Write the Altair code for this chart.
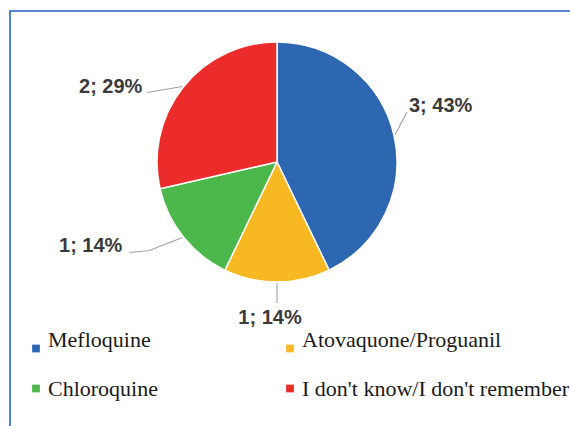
import math
import altair as alt
import pandas as pd

# ---- data ----
CATEGORIES = ["Mefloquine", "Atovaquone/Proguanil", "Chloroquine", "I don't know/I don't remember"]
COUNTS = [3, 1, 1, 2]
COLORS = ["#2E67B1", "#F8B822", "#4CB74A", "#EC2B2B"]

# ---- layout (styles / positions) ----
W, H = 570, 426
CX, CY, R = 277, 162, 120
# leader path points relative to the slice's edge point
LEADER_OFFSETS = [[(12, -23)], [(0, 20)], [(-33, 13), (-53, 15)], [(-35, 6)]]
# label position relative to the leader's end, and alignment
LABEL_SHIFT = [(2, 0), (-7, 21), (-7, 0), (-5, 0)]
LABEL_ALIGN = ["left", "center", "right", "right"]
LEG_SQ_X = [36, 290]
LEG_TX_X = [48, 302]
LEG_SQ_Y = [348.5, 388.5]
LEG_TX_Y = [347, 396]

total = sum(COUNTS)
pie_df = pd.DataFrame({"cat": CATEGORIES, "n": COUNTS, "ord": list(range(len(CATEGORIES)))})

lead_rows, lab_rows = [], []
cum = 0
for i, (c, n) in enumerate(zip(CATEGORIES, COUNTS)):
    mid = (cum + n / 2) / total * 2 * math.pi
    cum += n
    ex, ey = CX + (R + 1) * math.sin(mid), CY - (R + 1) * math.cos(mid)
    pts = [(ex, ey)] + [(ex + dx, ey + dy) for dx, dy in LEADER_OFFSETS[i]]
    for k, (px, py) in enumerate(pts):
        lead_rows.append({"cat": c, "seq": k, "x": px, "y": py})
    lx, ly = pts[-1][0] + LABEL_SHIFT[i][0], pts[-1][1] + LABEL_SHIFT[i][1]
    pct = round(n / total * 100)
    lab_rows.append({"cat": c, "x": lx, "y": ly, "label": f"{n}; {pct}%", "al": LABEL_ALIGN[i]})
lead_df = pd.DataFrame(lead_rows)
lab_df = pd.DataFrame(lab_rows)

leg_df = pd.DataFrame({
    "cat": CATEGORIES,
    "sx": [LEG_SQ_X[i % 2] for i in range(len(CATEGORIES))],
    "sy": [LEG_SQ_Y[i // 2] for i in range(len(CATEGORIES))],
    "tx": [LEG_TX_X[i % 2] for i in range(len(CATEGORIES))],
    "ty": [LEG_TX_Y[i // 2] for i in range(len(CATEGORIES))],
})

xs = alt.Scale(domain=[0, W], nice=False, zero=False)
ys = alt.Scale(domain=[0, H], nice=False, zero=False, reverse=True)
color = alt.Color("cat:N", scale=alt.Scale(domain=CATEGORIES, range=COLORS), legend=None)

frame = alt.Chart(pd.DataFrame({"a": [0]})).mark_rect(
    fill=None, stroke="#2262C2", strokeWidth=1.6
).encode(x=alt.value(10), x2=alt.value(W + 50), y=alt.value(11), y2=alt.value(H + 50))

pie = alt.Chart(pie_df).mark_arc(outerRadius=R, stroke="white", strokeWidth=1.5).encode(
    theta=alt.Theta("n:Q", stack=True),
    order=alt.Order("ord:Q"),
    color=color,
    x=alt.value(CX),
    y=alt.value(CY),
)

leaders = alt.Chart(lead_df).mark_line(color="#A0A0A0", strokeWidth=1.1).encode(
    x=alt.X("x:Q", scale=xs, axis=None),
    y=alt.Y("y:Q", scale=ys, axis=None),
    detail="cat:N",
    order="seq:Q",
)

label_layers = []
for al in ["left", "center", "right"]:
    label_layers.append(
        alt.Chart(lab_df).transform_filter(alt.datum.al == al).mark_text(
            align=al, baseline="alphabetic", font="Liberation Sans", fontWeight="bold",
            fontSize=20, color="#3A3A3A"
        ).encode(
            x=alt.X("x:Q", scale=xs, axis=None),
            y=alt.Y("y:Q", scale=ys, axis=None),
            text="label:N",
        )
    )

leg_sq = alt.Chart(leg_df).mark_square(size=60, opacity=1).encode(
    x=alt.X("sx:Q", scale=xs, axis=None),
    y=alt.Y("sy:Q", scale=ys, axis=None),
    color=color,
)
leg_tx = alt.Chart(leg_df).mark_text(
    align="left", baseline="alphabetic", font="Liberation Serif", fontSize=22, color="#1A1A1A"
).encode(
    x=alt.X("tx:Q", scale=xs, axis=None),
    y=alt.Y("ty:Q", scale=ys, axis=None),
    text="cat:N",
)

chart = alt.layer(frame, pie, leaders, *label_layers, leg_sq, leg_tx).properties(
    width=W, height=H, autosize=alt.AutoSizeParams(type="none"), padding=0, background="white"
).configure_view(strokeWidth=0)

chart.save("out.html", embed_options={"renderer": "svg", "actions": False})
